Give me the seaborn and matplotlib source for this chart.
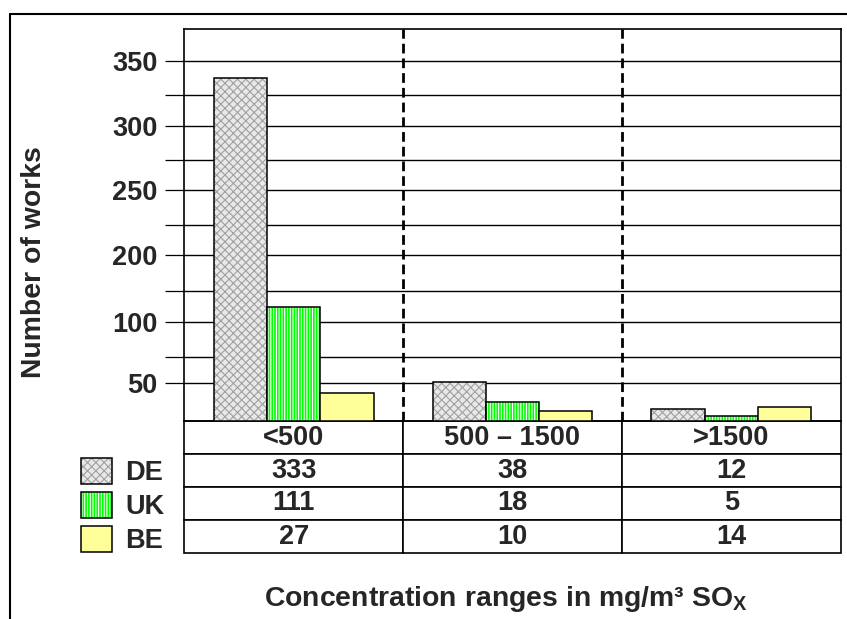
import numpy as np
import pandas as pd
import matplotlib
matplotlib.use('Agg')
import matplotlib.pyplot as plt
import matplotlib.colors as mcolors
from matplotlib.lines import Line2D
import seaborn as sns

# data as printed in the table under the chart
ranges = ['<500', '500 – 1500', '>1500']
countries = ['DE', 'UK', 'BE']
de_works = [333, 38, 12]
uk_works = [111, 18, 5]
be_works = [27, 10, 14]

# y tick labels as they appear on the original (uneven spacing there)
ytick_labels = ['50', '100', '200', '250', '300', '350']

df = pd.DataFrame({
    'range': ranges * 3,
    'country': np.repeat(countries, 3),
    'works': de_works + uk_works + be_works,
})

sns.set_style('white')
plt.rcParams['font.family'] = ['Liberation Sans', 'DejaVu Sans']
plt.rcParams['font.weight'] = 'bold'
plt.rcParams['hatch.linewidth'] = 0.8
plt.rcParams['mathtext.fontset'] = 'custom'
plt.rcParams['mathtext.bf'] = 'Liberation Sans:bold'
plt.rcParams['mathtext.rm'] = 'Liberation Sans:bold'

fs = 19.5
W, H = 847, 619

fig = plt.figure(figsize=(8.47, 6.19), dpi=100)
ax = fig.add_axes([184.3 / W, 1 - 421 / H, 656.4 / W, 392 / H])

sns.barplot(data=df, x='range', y='works', hue='country', order=ranges,
            hue_order=countries, palette=['#e8e8e8', '#00ff00', '#ffff99'],
            saturation=1, width=0.73, edgecolor='black', linewidth=1.1,
            errorbar=None, legend=False, ax=ax, zorder=3)

# fill textures
styles = {'DE': ('xxxx', '#a0a0a0'), 'UK': ('||||||', 'white'), 'BE': (None, None)}
for name, cont in zip(countries, ax.containers):
    hatch, hcol = styles[name]
    for p in cont.patches:
        if hatch:
            p.set_hatch(hatch)
            p._hatch_color = mcolors.to_rgba(hcol)

# y axis - reproduce the original's tick placement
ax.set_ylim(0, 381)
ax.set_xlim(-0.5, 2.5)
major_pos = [36.7, 96.0, 161.4, 224.9, 286.8, 349.7]
minor_pos = [62.5, 126.4, 190.3, 253.5, 316.6]
ax.set_yticks(major_pos, ytick_labels)
ax.set_yticks(minor_pos, minor=True)
ax.tick_params(axis='y', which='both', direction='out', length=13.7, width=0.9,
               color='black', left=True, pad=5.5, labelsize=fs)
ax.tick_params(axis='x', bottom=False, labelbottom=False)
ax.grid(axis='y', which='both', color='black', lw=1.0)
ax.set_axisbelow(True)
ax.set_xlabel('')
ax.set_ylabel('')

for x in [0.5, 1.5]:
    ax.axvline(x, color='black', lw=2, ls=(0, (3.5, 1.8)), zorder=2)

for s in ax.spines.values():
    s.set_visible(True)
    s.set_color('black')
    s.set_linewidth(1.2)

# data table under the axes
h = 132 / 392
tab = ax.table(cellText=[[str(v) for v in row] for row in (de_works, uk_works, be_works)],
               colLabels=ranges, cellLoc='center', bbox=[0, -h, 1, h])
tab.auto_set_font_size(False)
tab.set_fontsize(fs)
for cell in tab.get_celld().values():
    cell.set_linewidth(1.2)
    cell.set_edgecolor('black')
    cell.get_text().set_fontweight('bold')

# legend next to the table rows
handles = [c.patches[0] for c in ax.containers]
fig.legend(handles, countries, loc='upper left',
           bbox_to_anchor=(80.7 / W, 1 - 458 / H), frameon=False,
           borderpad=0, borderaxespad=0, fontsize=fs, handlelength=1.15,
           handleheight=1.12, handletextpad=0.5, labelspacing=0.2)

fig.text(34 / W, 1 - 262 / H, 'Number of works', rotation=90,
         ha='center', va='center', fontsize=20.4, fontweight='bold')
fig.text(506 / W, 1 - 606 / H, r'Concentration ranges in mg/m³ SO$_{\mathbf{X}}$',
         ha='center', va='baseline', fontsize=20.4, fontweight='bold')

# outer frame (only top and left visible)
fig.add_artist(Line2D([9.5 / W, 1], [1 - 14 / H] * 2, transform=fig.transFigure,
                      color='black', lw=1.5))
fig.add_artist(Line2D([9.5 / W] * 2, [0, 1 - 14 / H], transform=fig.transFigure,
                      color='black', lw=1.5))

fig.savefig('out.png', dpi=100, facecolor='white')
